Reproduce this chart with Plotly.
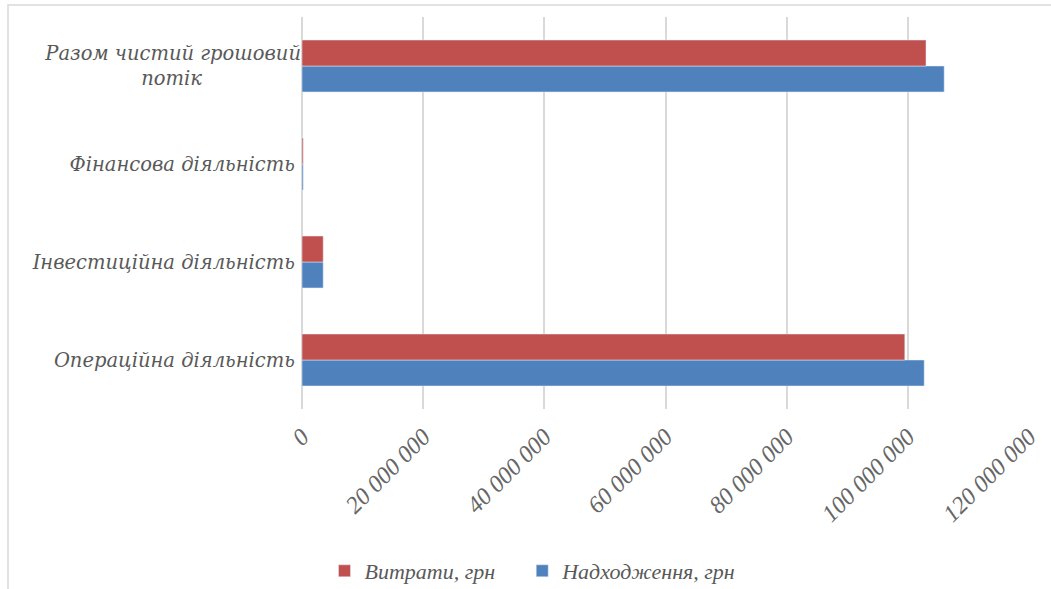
import plotly.graph_objects as go

NB = "\u00a0"
categories = ["Операційна діяльність", "Інвестиційна діяльність", "Фінансова діяльність",
              "Разом чистий грошовий<br>потік" + NB * 15]
income = [102700000, 3500000, 200000, 106000000]    # Надходження, грн
expense = [99500000, 3500000, 200000, 103000000]    # Витрати, грн
tick_vals = [0, 20000000, 40000000, 60000000, 80000000, 100000000, 120000000]
tick_text = ["0", "20 000 000", "40 000 000", "60 000 000", "80 000 000", "100 000 000", "120 000 000"]

fig = go.Figure()
fig.add_trace(go.Bar(y=categories, x=income, orientation="h", name="Надходження, грн",
                     marker_color="#4f81bd"))
fig.add_trace(go.Bar(y=categories, x=expense, orientation="h", name="Витрати, грн" + NB * 4,
                     marker_color="#c0504d"))

L, R, T, B = 302, 22, 17, 180
W, H = 1051, 589
pw, ph = W - L - R, H - T - B

def px_x(p):
    return (p - L) / pw

def px_y(p):
    return 1 - (p - T) / ph

fig.update_layout(
    width=W, height=H,
    margin=dict(l=L, r=R, t=T, b=B, autoexpand=False),
    barmode="group", bargap=0.47, bargroupgap=0,
    plot_bgcolor="white", paper_bgcolor="white",
    font=dict(family="DejaVu Serif", color="#595959"),
    xaxis=dict(range=[0, 120000000], tickvals=tick_vals, ticktext=tick_text,
               tickangle=-45, showgrid=True, gridcolor="#d9d9d9", gridwidth=1.5,
               zeroline=True, zerolinecolor="#d9d9d9", zerolinewidth=2,
               ticklabelstandoff=8, automargin=False,
               tickfont=dict(family="Liberation Sans Narrow", size=24,
                             color="#666666", style="italic"),
               fixedrange=True),
    yaxis=dict(showgrid=False, showline=False, zeroline=False, ticks="", automargin=False,
               tickfont=dict(family="DejaVu Serif", size=19.5, color="#595959", style="italic"),
               ticksuffix=" "),
    legend=dict(orientation="h", x=px_x(533), y=px_y(571), xanchor="center", yanchor="middle",
                traceorder="reversed",
                font=dict(family="Liberation Sans Narrow", size=22, color="#595959", style="italic")),
    shapes=[dict(type="rect", xref="paper", yref="paper",
                 x0=px_x(8), x1=px_x(1060), y0=px_y(600), y1=px_y(5),
                 line=dict(color="#d9d9d9", width=1.5), fillcolor="rgba(0,0,0,0)", layer="below")],
)

fig.write_html("out.html")
